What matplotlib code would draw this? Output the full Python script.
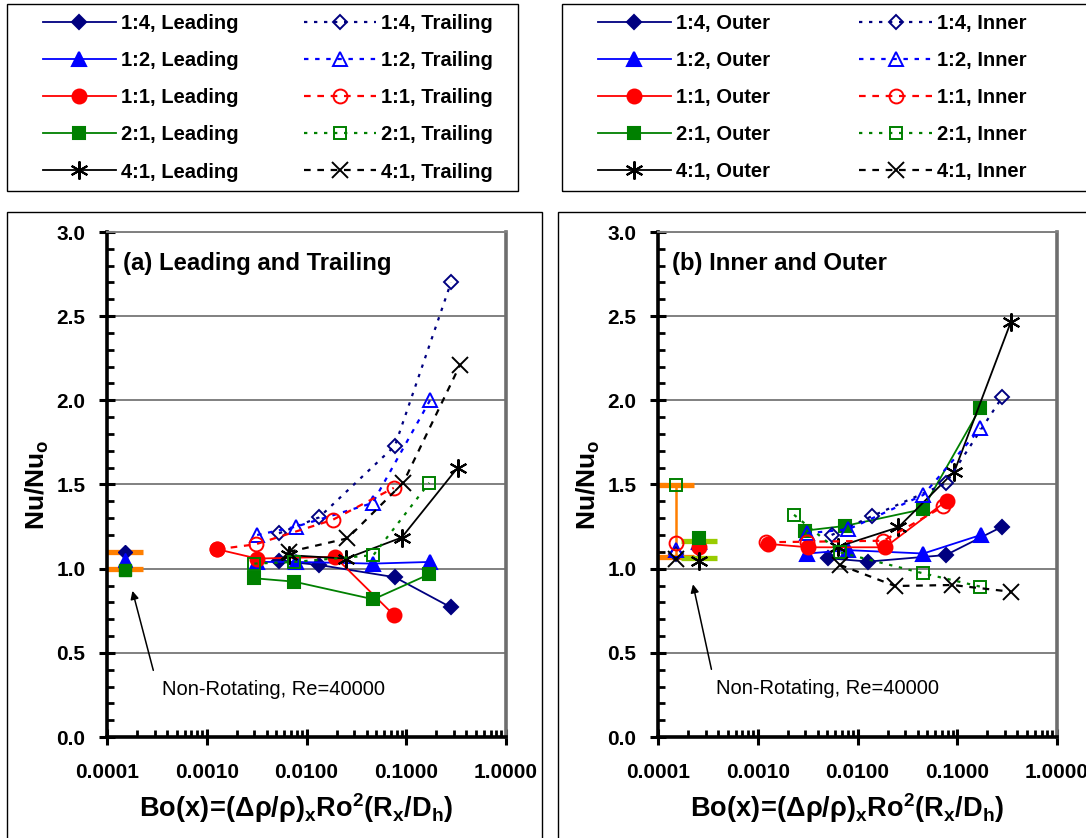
import matplotlib
matplotlib.use('Agg')
import matplotlib.pyplot as plt
from matplotlib.patches import Rectangle
from matplotlib.ticker import FixedLocator, MultipleLocator, LogLocator, NullFormatter, FixedFormatter

plt.rcParams['font.family'] = ['Liberation Sans', 'DejaVu Sans']
plt.rcParams['mathtext.fontset'] = 'custom'
plt.rcParams['mathtext.rm'] = 'Liberation Sans'
plt.rcParams['mathtext.bf'] = 'Liberation Sans:bold'
plt.rcParams['mathtext.it'] = 'Liberation Sans:italic'

# ---------------- data ----------------
ratios = ['1:4', '1:2', '1:1', '2:1', '4:1']

# Panel (a): Leading (solid, filled) / Trailing (dashed, open)
a_lead_x = [[0.0053, 0.0134, 0.077, 0.281],
            [0.0032, 0.0079, 0.046, 0.173],
            [0.00128, 0.0032, 0.0193, 0.075],
            [0.0030, 0.0075, 0.0468, 0.170],
            [0.0067, 0.0249, 0.090, 0.328]]
a_lead_y = [[1.046, 1.022, 0.949, 0.77],
            [1.04, 1.04, 1.03, 1.04],
            [1.115, 1.06, 1.07, 0.725],
            [0.943, 0.923, 0.818, 0.967],
            [1.08, 1.06, 1.185, 1.60]]
a_trail_x = [[0.0053, 0.0134, 0.077, 0.281],
             [0.0032, 0.0079, 0.046, 0.173],
             [0.00128, 0.0031, 0.0183, 0.075],
             [0.0030, 0.0075, 0.0468, 0.170],
             [0.0067, 0.0257, 0.0932, 0.346]]
a_trail_y = [[1.21, 1.305, 1.73, 2.70],
             [1.20, 1.25, 1.39, 2.00],
             [1.115, 1.145, 1.29, 1.48],
             [1.03, 1.04, 1.08, 1.51],
             [1.10, 1.18, 1.51, 2.21]]

# Panel (b): Outer (solid, filled) / Inner (dashed, open)
b_out_x = [[0.0051, 0.0128, 0.077, 0.283],
           [0.00314, 0.0081, 0.0457, 0.172],
           [0.00128, 0.0032, 0.0189, 0.0784],
           [0.0030, 0.0075, 0.045, 0.171],
           [0.00643, 0.0257, 0.0935, 0.346]]
b_out_y = [[1.062, 1.042, 1.081, 1.25],
           [1.09, 1.11, 1.09, 1.20],
           [1.147, 1.127, 1.127, 1.404],
           [1.226, 1.254, 1.353, 1.957],
           [1.131, 1.246, 1.577, 2.468]]
b_in_x = [[0.0055, 0.0141, 0.077, 0.283],
          [0.0031, 0.0081, 0.0457, 0.171],
          [0.00121, 0.0031, 0.0182, 0.0727],
          [0.00231, 0.00668, 0.045, 0.171],
          [0.00668, 0.0238, 0.0895, 0.346]]
b_in_y = [[1.20, 1.313, 1.507, 2.02],
          [1.21, 1.234, 1.438, 1.834],
          [1.157, 1.16, 1.166, 1.37],
          [1.32, 1.097, 0.973, 0.893],
          [1.022, 0.897, 0.903, 0.863]]

# Non-rotating reference values
a_nr_x = 0.00015
a_nr_range = [1.00, 1.10]
a_nr_idx = [0, 1, 3]              # 1:4, 1:2, 2:1 markers shown
a_nr_y = [1.10, 1.05, 0.99]

b_nr_in_x = 0.00015
b_nr_in_range = [1.068, 1.497]
b_nr_in_y = [1.09, 1.11, 1.15, 1.497, 1.056]
b_nr_out_x = 0.000258
b_nr_out_range = [1.062, 1.165]
b_nr_out_y = [1.115, 1.16, 1.13, 1.18, 1.045]

xtick_vals = [0.0001, 0.001, 0.01, 0.1, 1.0]
xtick_labels = ['0.0001', '0.0010', '0.0100', '0.1000', '1.0000']
ytick_vals = [0.0, 0.5, 1.0, 1.5, 2.0, 2.5, 3.0]
ytick_labels = ['0.0', '0.5', '1.0', '1.5', '2.0', '2.5', '3.0']

# ---------------- styles ----------------
colors = ['#000080', '#0000FF', '#FF0000', '#008000', '#000000']
markers = ['D', '^', 'o', 's', (6, 2, 0)]
msizes = [7.0, 10.5, 10.0, 9.0, 13.0]
open_markers = ['D', '^', 'o', 's', 'x']
open_msizes = [7.0, 10.5, 10.0, 9.0, 12.0]
dash_styles = [(0, (1.5, 3)), (0, (2, 3)), (0, (3, 3)), (0, (1.5, 3)), (0, (3, 3))]

W, H = 1086, 838
fig = plt.figure(figsize=(W / 100, H / 100), dpi=100)


def fx(px):
    return px / W


def fy(py):
    return 1 - py / H


def style_axes(ax):
    ax.set_xscale('log')
    ax.set_xlim(1e-4, 1.0)
    ax.set_ylim(0, 3.0)
    ax.xaxis.set_major_locator(FixedLocator(xtick_vals))
    ax.xaxis.set_major_formatter(FixedFormatter(xtick_labels))
    ax.xaxis.set_minor_locator(LogLocator(base=10, subs=range(2, 10), numticks=20))
    ax.xaxis.set_minor_formatter(NullFormatter())
    ax.yaxis.set_major_locator(FixedLocator(ytick_vals))
    ax.yaxis.set_major_formatter(FixedFormatter(ytick_labels))
    ax.yaxis.set_minor_locator(MultipleLocator(0.1))
    ax.tick_params(which='major', direction='inout', length=11, width=2.2,
                   labelsize=15, pad=10)
    ax.tick_params(axis='x', which='major', pad=13)
    ax.tick_params(which='minor', direction='in', length=5, width=2.0)
    for lab in ax.get_xticklabels() + ax.get_yticklabels():
        lab.set_fontweight('bold')
    ax.grid(True, axis='y', which='major', color='#808080', lw=1.4)
    ax.set_axisbelow(True)
    ax.spines['left'].set_linewidth(2.6)
    ax.spines['bottom'].set_linewidth(2.6)
    ax.spines['right'].set_color('#6e6e6e')
    ax.spines['right'].set_linewidth(2.6)
    ax.spines['top'].set_color('#808080')
    ax.spines['top'].set_linewidth(1.4)
    ax.set_ylabel(r'$\mathbf{Nu/Nu_o}$', fontsize=19, ha='center', va='center')
    ax.yaxis.set_label_coords(-0.175, 0.5)
    ax.set_xlabel(r'$\mathbf{Bo(x)\!=\!(\Delta\rho/\rho)_xRo^2(R_x/D_h)}$', fontsize=19.5,
                  ha='center', va='center')
    ax.xaxis.set_label_coords(0.475, -0.14)


ax_a = fig.add_axes([fx(107), fy(737), (506 - 107) / W, (737 - 232) / H])
ax_b = fig.add_axes([fx(658), fy(737), (1057 - 658) / W, (737 - 232) / H])
style_axes(ax_a)
style_axes(ax_b)

# ---------------- panel (a) ----------------
lead_handles, trail_handles = [], []
for i in range(5):
    h, = ax_a.plot(a_lead_x[i], a_lead_y[i], color=colors[i], lw=1.3, ls='-',
                   marker=markers[i], ms=msizes[i], mfc=colors[i], mec=colors[i],
                   mew=1.5, label=f'{ratios[i]}, Leading', zorder=3)
    lead_handles.append(h)
for i in range(5):
    h, = ax_a.plot(a_trail_x[i], a_trail_y[i], color=colors[i], lw=1.6, ls=dash_styles[i],
                   marker=open_markers[i], ms=open_msizes[i], mfc='none', mec=colors[i],
                   mew=1.4, label=f'{ratios[i]}, Trailing', zorder=3)
    trail_handles.append(h)

mid = (a_nr_range[0] + a_nr_range[1]) / 2
ax_a.errorbar([a_nr_x], [mid], yerr=[[mid - a_nr_range[0]], [a_nr_range[1] - mid]],
              fmt='none', ecolor='#FF7F00', elinewidth=1.5, capsize=13, capthick=3.8, zorder=2)
for j, i in enumerate(a_nr_idx):
    ax_a.plot([a_nr_x], [a_nr_y[j]], ls='none', marker=markers[i], ms=msizes[i],
              mfc=colors[i], mec=colors[i], zorder=4)

ax_a.text(0.04, 0.937, '(a) Leading and Trailing', transform=ax_a.transAxes,
          fontsize=17.2, fontweight='bold', ha='left', va='center')
ax_a.annotate('', xy=(0.000177, 0.884), xytext=(0.000296, 0.38),
              arrowprops=dict(arrowstyle='-|>', color='black', lw=1.1, mutation_scale=12))
ax_a.text(0.000356, 0.28, 'Non-Rotating, Re=40000', fontsize=14.5, ha='left', va='center')

# ---------------- panel (b) ----------------
out_handles, in_handles = [], []
for i in range(5):
    h, = ax_b.plot(b_out_x[i], b_out_y[i], color=colors[i], lw=1.3, ls='-',
                   marker=markers[i], ms=msizes[i], mfc=colors[i], mec=colors[i],
                   mew=1.5, label=f'{ratios[i]}, Outer', zorder=3)
    out_handles.append(h)
for i in range(5):
    h, = ax_b.plot(b_in_x[i], b_in_y[i], color=colors[i], lw=1.6, ls=dash_styles[i],
                   marker=open_markers[i], ms=open_msizes[i], mfc='none', mec=colors[i],
                   mew=1.4, label=f'{ratios[i]}, Inner', zorder=3)
    in_handles.append(h)

mid = (b_nr_in_range[0] + b_nr_in_range[1]) / 2
ax_b.errorbar([b_nr_in_x], [mid], yerr=[[mid - b_nr_in_range[0]], [b_nr_in_range[1] - mid]],
              fmt='none', ecolor='#FF7F00', elinewidth=1.8, capsize=13, capthick=3.8, zorder=2)
mid = (b_nr_out_range[0] + b_nr_out_range[1]) / 2
ax_b.errorbar([b_nr_out_x], [mid], yerr=[[mid - b_nr_out_range[0]], [b_nr_out_range[1] - mid]],
              fmt='none', ecolor='#99CC00', elinewidth=1.8, capsize=13, capthick=3.8, zorder=2)
for i in range(5):
    ax_b.plot([b_nr_in_x], [b_nr_in_y[i]], ls='none', marker=open_markers[i], ms=open_msizes[i],
              mfc='none', mec=colors[i], mew=1.4, zorder=4)
for i in range(5):
    ax_b.plot([b_nr_out_x], [b_nr_out_y[i]], ls='none', marker=markers[i], ms=msizes[i],
              mfc=colors[i], mec=colors[i], mew=1.5, zorder=4)

ax_b.text(0.035, 0.937, '(b) Inner and Outer', transform=ax_b.transAxes,
          fontsize=17.2, fontweight='bold', ha='left', va='center')
ax_b.annotate('', xy=(0.000221, 0.923), xytext=(0.000348, 0.386),
              arrowprops=dict(arrowstyle='-|>', color='black', lw=1.1, mutation_scale=12))
ax_b.text(0.000381, 0.29, 'Non-Rotating, Re=40000', fontsize=14.5, ha='left', va='center')

# ---------------- legends ----------------
leg_kw = dict(ncol=2, frameon=False, loc='upper left',
              handlelength=3.6, handletextpad=0.25,
              labelspacing=0.9, borderpad=0, borderaxespad=0,
              prop={'weight': 'bold', 'size': 14.5})
fig.legend(lead_handles + trail_handles, [h.get_label() for h in lead_handles + trail_handles],
           bbox_to_anchor=(fx(43), fy(14)), columnspacing=3.25, **leg_kw)
fig.legend(out_handles + in_handles, [h.get_label() for h in out_handles + in_handles],
           bbox_to_anchor=(fx(598), fy(14)), columnspacing=4.45, **leg_kw)

# ---------------- frames ----------------
for (x0, y0, x1, y1) in [(7, 4, 518, 191), (562, 4, 1100, 191),
                         (7, 212, 542, 850), (558, 212, 1100, 850)]:
    fig.add_artist(Rectangle((fx(x0), fy(y1)), fx(x1) - fx(x0), fy(y0) - fy(y1),
                             transform=fig.transFigure, fill=False,
                             edgecolor='black', lw=1.0))

fig.savefig('out.png', dpi=100)
